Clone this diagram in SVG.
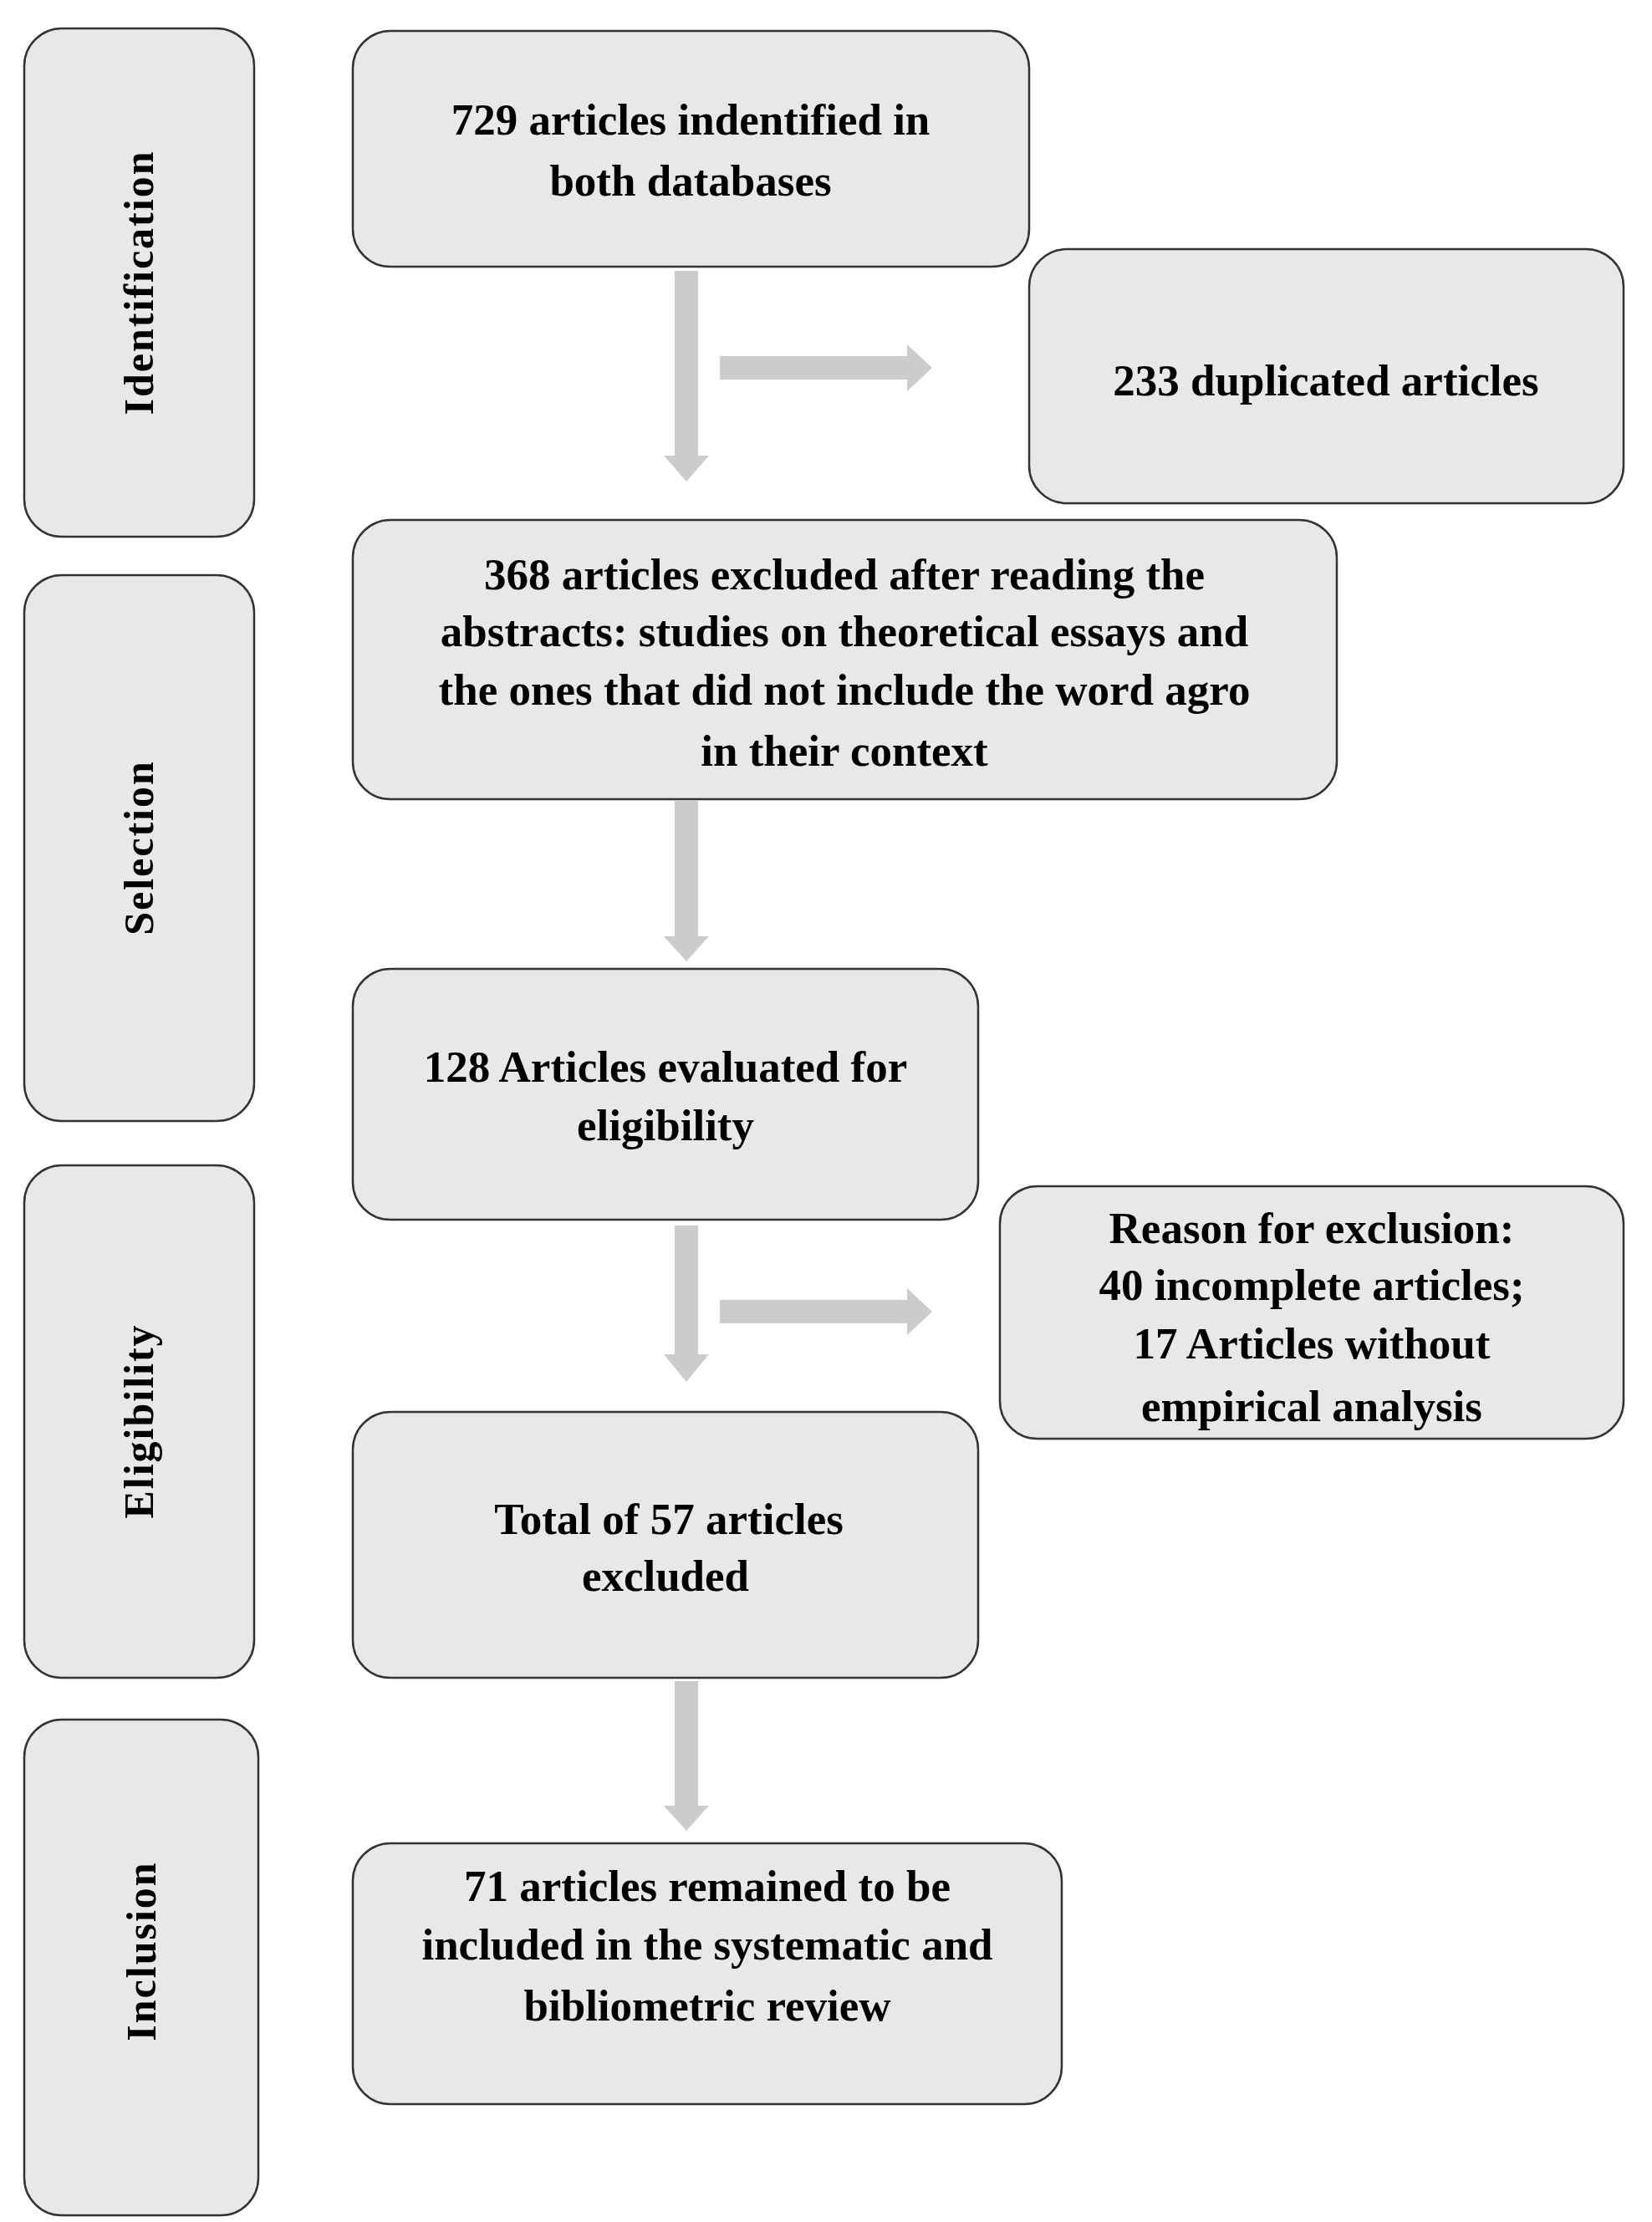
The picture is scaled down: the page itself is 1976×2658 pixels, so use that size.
<svg xmlns="http://www.w3.org/2000/svg" width="1976" height="2658" viewBox="0 0 1976 2658">
<style>
.b{fill:#e8e8e8;stroke:#333;stroke-width:2.5}
.t{font-family:"Liberation Serif",serif;font-weight:bold;font-size:53px;fill:#000;text-anchor:middle;dominant-baseline:central}
.p{font-family:"Liberation Serif",serif;font-weight:bold;font-size:50px;fill:#000;text-anchor:middle;dominant-baseline:central;letter-spacing:2px}
.a{fill:#cccccc}
</style>
<rect width="1976" height="2658" fill="#fff"/>
<g id="phase-identification"><rect class="b" x="29" y="34" width="275" height="608" rx="45"/><text class="p" transform="translate(166,338) rotate(-90)">Identification</text></g>
<g id="phase-selection"><rect class="b" x="29" y="688" width="275" height="653" rx="45"/><text class="p" transform="translate(166,1014) rotate(-90)">Selection</text></g>
<g id="phase-eligibility"><rect class="b" x="29" y="1394" width="275" height="613" rx="45"/><text class="p" transform="translate(166,1700) rotate(-90)">Eligibility</text></g>
<g id="phase-inclusion"><rect class="b" x="29" y="2057" width="280" height="593" rx="45"/><text class="p" transform="translate(169,2334) rotate(-90)">Inclusion</text></g>
<g id="n1"><rect class="b" x="422" y="37" width="809" height="282" rx="45"/><text class="t" x="826" y="143">729 articles indentified in</text><text class="t" x="826" y="216">both databases</text></g>
<g id="n2"><rect class="b" x="1231" y="298" width="711" height="304" rx="45"/><text class="t" x="1586" y="455">233 duplicated articles</text></g>
<g id="n3"><rect class="b" x="422" y="622" width="1177" height="334" rx="45"/><text class="t" x="1010" y="687">368  articles excluded after reading the</text><text class="t" x="1010" y="755">abstracts: studies on theoretical essays and</text><text class="t" x="1010" y="825">the ones that did not include the word agro</text><text class="t" x="1010" y="898">in their context</text></g>
<g id="n4"><rect class="b" x="422" y="1159" width="748" height="300" rx="45"/><text class="t" x="796" y="1276">128  Articles evaluated for</text><text class="t" x="796" y="1346">eligibility</text></g>
<g id="n5"><rect class="b" x="1196" y="1419" width="746" height="302" rx="45"/><text class="t" x="1569" y="1469">Reason for exclusion:</text><text class="t" x="1569" y="1537">40 incomplete articles;</text><text class="t" x="1569" y="1607">17  Articles without</text><text class="t" x="1569" y="1682">empirical analysis</text></g>
<g id="n6"><rect class="b" x="422" y="1689" width="748" height="318" rx="45"/><text class="t" x="800" y="1817">Total of 57 articles</text><text class="t" x="796" y="1885">excluded</text></g>
<g id="n7"><rect class="b" x="422" y="2205" width="848" height="312" rx="45"/><text class="t" x="846" y="2256">71 articles remained to be</text><text class="t" x="846" y="2326">included in the systematic and</text><text class="t" x="846" y="2399">bibliometric review</text></g>
<g id="connectors">
<polygon class="a" points="807,324 835,324 835,545 848,545 821,576 794,545 807,545"/>
<polygon class="a" points="807,958 835,958 835,1120 848,1120 821,1150 794,1120 807,1120"/>
<polygon class="a" points="807,1466 835,1466 835,1620 848,1620 821,1653 794,1620 807,1620"/>
<polygon class="a" points="807,2011 835,2011 835,2160 848,2160 821,2190 794,2160 807,2160"/>
<polygon class="a" points="861,426 1085,426 1085,412 1115,440 1085,468 1085,454 861,454"/>
<polygon class="a" points="861,1555 1085,1555 1085,1541 1115,1569 1085,1597 1085,1583 861,1583"/>
</g>
</svg>
